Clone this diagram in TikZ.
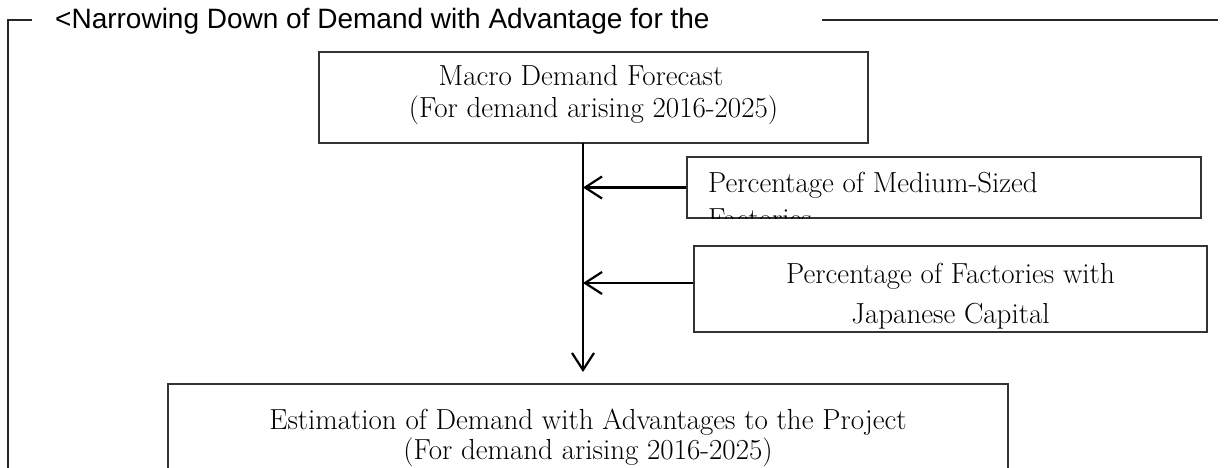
\documentclass[tikz,border=0pt]{standalone}
\usepackage{fontspec}
\newfontfamily\titlefont{Liberation Sans}
\usetikzlibrary{arrows.meta}
\begin{document}
\begin{tikzpicture}[x=1pt,y=-1pt,
  framestyle/.style={draw=black!85, line width=1.3pt},
  box/.style={draw=black!80, line width=1.3pt, rectangle, inner sep=0pt, fill=white},
  lbl/.style={anchor=base, inner sep=0pt, font=\fontsize{29}{34}\selectfont\addfontfeatures{FakeBold=0.2}},
  conn/.style={draw=black, line width=2.2pt},
  tip/.style={-{Straight Barb[length=17pt,width=22pt,line width=2.2pt]}}
]
\useasboundingbox (0,0) rectangle (1226,468);

% surrounding group frame with its caption
\coordinate (frameA) at (8,468);
\coordinate (frameB) at (8,20);
\coordinate (frameC) at (32,20);
\coordinate (frameD) at (822,20);
\coordinate (frameE) at (1218,20);
\draw[framestyle] (frameA) -- (frameB) -- (frameC);
\draw[framestyle] (frameD) -- (frameE);
\node[anchor=base west, inner sep=0pt, font=\titlefont\fontsize{28}{32}\selectfont] (caption) at (55,29)
  {<Narrowing Down of Demand with Advantage for the};

% boxes
\node[box, minimum width=549pt, minimum height=91pt] (macro) at (593.5,97.5) {};
\node[box, minimum width=514pt, minimum height=61pt] (medium) at (944,187.5) {};
\node[box, minimum width=513pt, minimum height=86pt] (japan) at (950.5,289) {};
\node[box, minimum width=840pt, minimum height=120pt] (estim) at (588,444) {};

% box texts
\node[lbl] (macroA) at (581,86) {Macro Demand Forecast};
\node[lbl] (macroB) at (593.5,118) {(For demand arising 2016-2025)};

\begin{scope}
  \clip (medium.south west) rectangle (medium.north east);
  \node[lbl, anchor=base west] (mediumA) at (708,193) {Percentage of Medium-Sized};
  \node[lbl, anchor=base west] (mediumB) at (708,228) {Factories};
\end{scope}

\node[lbl] (japanA) at (950.5,283) {Percentage of Factories with};
\node[lbl] (japanB) at (950.5,323) {Japanese Capital};

\node[lbl] (estimA) at (588,429) {Estimation of Demand with Advantages to the Project};
\node[lbl] (estimB) at (588,459) {(For demand arising 2016-2025)};

% connectors
\coordinate (trunkTop) at (583,143);
\coordinate (trunkEnd) at (583,372);
\draw[conn, tip] (trunkTop) -- (trunkEnd);
\draw[conn, tip] (medium.west) -- (medium.west -| trunkTop);
\draw[conn, tip] ([yshift=6pt]japan.west) -- ([yshift=6pt]japan.west -| trunkTop);
\end{tikzpicture}
\end{document}
